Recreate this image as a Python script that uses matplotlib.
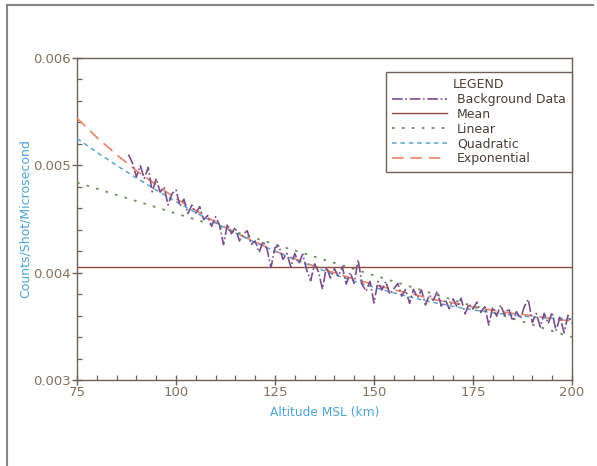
"""Background count rate vs altitude with fitted curves."""

import matplotlib.pyplot as plt
from matplotlib.lines import Line2D
from matplotlib.ticker import MultipleLocator
import numpy as np

# Background data, 1 km steps from 88 to 200 km
bg_alt = np.arange(88, 201)
bg_counts = [
    0.005101, 0.005022, 0.004893, 0.004996, 0.004878, 0.004981, 0.004753,
    0.004876, 0.004751, 0.004796, 0.004631, 0.004736, 0.004771, 0.004618,
    0.004685, 0.004552, 0.004629, 0.004556, 0.004615, 0.004494, 0.004533,
    0.004432, 0.004521, 0.004442, 0.004262, 0.004453, 0.004363, 0.004424,
    0.004296, 0.004358, 0.004391, 0.004263, 0.004295, 0.004189, 0.004293,
    0.004216, 0.004050, 0.004234, 0.004249, 0.004124, 0.004179, 0.004054,
    0.004179, 0.004085, 0.004172, 0.004028, 0.003925, 0.004081, 0.004008,
    0.003846, 0.004053, 0.003951, 0.004038, 0.003967, 0.004055, 0.003894,
    0.004002, 0.003901, 0.004120, 0.003890, 0.003829, 0.003919, 0.003718,
    0.003918, 0.003838, 0.003919, 0.003799, 0.003849, 0.003900, 0.003782,
    0.003843, 0.003714, 0.003845, 0.003767, 0.003839, 0.003700, 0.003792,
    0.003744, 0.003826, 0.003689, 0.003751, 0.003664, 0.003756, 0.003679,
    0.003762, 0.003616, 0.003709, 0.003662, 0.003726, 0.003630, 0.003683,
    0.003512, 0.003681, 0.003595, 0.003699, 0.003604, 0.003668, 0.003552,
    0.003637, 0.003571, 0.003686, 0.003750, 0.003535, 0.003620, 0.003495,
    0.003621, 0.003526, 0.003631, 0.003456, 0.003592, 0.003442, 0.003603,
    0.003528,
]

mean_value = 0.00405
linear_alt = [75, 200]
linear_fit = [0.00484, 0.00340]

fit_alt = np.arange(75, 201, 5)
quad_fit = [
    0.005250, 0.005122, 0.005000, 0.004882, 0.004770, 0.004662, 0.004560,
    0.004462, 0.004370, 0.004282, 0.004200, 0.004123, 0.004051, 0.003983,
    0.003921, 0.003864, 0.003812, 0.003765, 0.003723, 0.003686, 0.003654,
    0.003627, 0.003605, 0.003588, 0.003577, 0.003570,
]
exp_fit = [
    0.00544, 0.00526, 0.00510, 0.00495, 0.00482, 0.00469, 0.00458, 0.00447,
    0.00437, 0.00429, 0.00420, 0.00413, 0.00406, 0.00400, 0.00394, 0.00389,
    0.00384, 0.00380, 0.00375, 0.00372, 0.00368, 0.00365, 0.00362, 0.00360,
    0.00357, 0.00355,
]

c_data = "#7b4e8c"
c_mean = "#8c4a3c"
c_lin = "#6f8f62"
c_quad = "#5da4cf"
c_exp = "#ec8466"
c_tick = "#86705f"
c_label = "#4fa3d6"
c_frame = "#6e6258"

fig = plt.figure(figsize=(5.97, 4.66), dpi=100)
ax = fig.add_axes([0.129, 0.1845, 0.829, 0.691])

ax.plot(fit_alt, exp_fit, color=c_exp, linestyle=(0, (7, 4)),
        linewidth=1.2, label="Exponential", zorder=3)
ax.plot(fit_alt, quad_fit, color=c_quad, linestyle=(0, (3, 2.5)),
        linewidth=1.1, label="Quadratic", zorder=3)
ax.plot(linear_alt, linear_fit, color=c_lin, linestyle=(0, (1.5, 4)),
        linewidth=1.3, label="Linear", zorder=3)
ax.axhline(mean_value, color=c_mean, linewidth=1.0, label="Mean", zorder=3)
ax.plot(bg_alt, bg_counts, color=c_data, linestyle="-.", linewidth=1.2,
        label="Background Data", zorder=4)

ax.set_xlim(75, 200)
ax.set_ylim(0.003, 0.006)
ax.xaxis.set_major_locator(MultipleLocator(25))
ax.xaxis.set_minor_locator(MultipleLocator(5))
ax.yaxis.set_major_locator(MultipleLocator(0.001))
ax.yaxis.set_minor_locator(MultipleLocator(0.0002))
ax.yaxis.set_major_formatter(plt.FuncFormatter(lambda v, _: f"{v:.3f}"))

ax.tick_params(which="major", direction="inout", length=7, width=1.0,
               colors=c_frame, labelcolor=c_tick, labelsize=9.5, pad=1)
ax.tick_params(which="minor", direction="in", length=3.5, width=0.9,
               colors=c_frame)
ax.tick_params(top=False, right=False, which="both")
for s in ax.spines.values():
    s.set_color(c_frame)
    s.set_linewidth(1.0)

ax.set_xlabel("Altitude MSL (km)", color=c_label, fontsize=8.8, labelpad=5)
ax.set_ylabel("Counts/Shot/Microsecond", color=c_label, fontsize=9,
              labelpad=1)

# legend order as in the reference
handles, labels = ax.get_legend_handles_labels()
order = [4, 3, 2, 1, 0]
leg = ax.legend([handles[i] for i in order], [labels[i] for i in order],
                title="LEGEND", loc="upper right",
                bbox_to_anchor=(1.0, 0.957), borderaxespad=0,
                fontsize=9, title_fontsize=9,
                frameon=True, fancybox=False, framealpha=1,
                edgecolor=c_frame, handlelength=4.4, handletextpad=0.8,
                labelspacing=0.15, borderpad=0.5)
leg.get_frame().set_linewidth(1.0)
for t in leg.get_texts():
    t.set_color("#4a3f3a")
leg.get_title().set_color("#4a3f3a")

# outer page frame
fig.add_artist(Line2D([0.012, 0.993], [0.989, 0.989], color="#8a8580",
                      linewidth=1.5, transform=fig.transFigure))
fig.add_artist(Line2D([0.012, 0.012], [0.0, 0.989], color="#8a8580",
                      linewidth=1.5, transform=fig.transFigure))

fig.savefig("out.png", dpi=100)
plt.close(fig)
